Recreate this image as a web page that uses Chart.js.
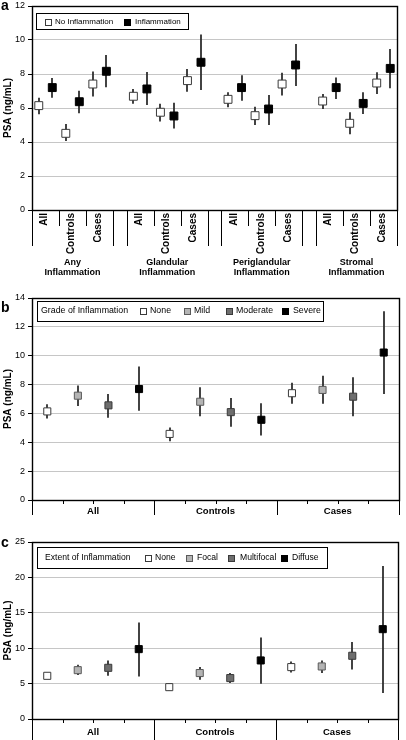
<!DOCTYPE html>
<html>
<head>
<meta charset="utf-8">
<script src="https://cdn.jsdelivr.net/npm/chart.js@4.4.1/dist/chart.umd.min.js"></script>
<style>
  html, body { margin: 0; padding: 0; background: #fff; }
  #wrap { position: relative; width: 406px; height: 740px; overflow: hidden; background: #fff; }
  canvas { position: absolute; left: 0; }
</style>
</head>
<body>
<div id="wrap">
  <canvas id="chartA" width="406" height="300" style="top:-10px"></canvas>
  <canvas id="chartB" width="406" height="240" style="top:280px"></canvas>
  <canvas id="chartC" width="406" height="220" style="top:520px"></canvas>
</div>
<script>
const FONT = '"Liberation Sans", Arial, Helvetica, sans-serif';

// ---- panel a: inflammation by compartment ----
const regionsA = ['Any Inflammation', 'Glandular Inflammation', 'Periglandular Inflammation', 'Stromal Inflammation'];
const subsetsA = ['All', 'Controls', 'Cases'];
// values run All, Controls, Cases for each region in turn
const noInflMean = [6.14, 4.51, 7.41, 6.69, 5.75, 7.61, 6.51, 5.55, 7.41, 6.41, 5.10, 7.47];
const noInflLow  = [5.63, 4.06, 6.67, 6.25, 5.20, 6.96, 6.04, 5.00, 6.73, 5.94, 4.45, 6.82];
const noInflHigh = [6.60, 5.06, 8.14, 7.12, 6.25, 8.29, 6.92, 6.08, 8.08, 6.82, 5.75, 8.10];
const inflMean   = [7.20, 6.37, 8.16, 7.12, 5.53, 8.69, 7.20, 5.94, 8.53, 7.20, 6.27, 8.33];
const inflLow    = [6.60, 5.69, 7.22, 6.18, 4.80, 7.06, 6.43, 5.00, 7.29, 6.53, 5.65, 7.16];
const inflHigh   = [7.76, 7.02, 9.12, 8.12, 6.31, 10.33, 7.92, 6.76, 9.76, 7.80, 6.92, 9.47];
const ticksA = [0, 2, 4, 6, 8, 10, 12];

// ---- panel b: grade of inflammation ----
const groupsBC = ['All', 'Controls', 'Cases'];
const gradeLabels = ['None', 'Mild', 'Moderate', 'Severe'];
const gradeNoneMean = [6.14, 4.58, 7.40];
const gradeNoneLow  = [5.65, 4.07, 6.67];
const gradeNoneHigh = [6.63, 5.03, 8.13];
const gradeMildMean = [7.23, 6.81, 7.63];
const gradeMildLow  = [6.51, 5.81, 6.67];
const gradeMildHigh = [7.93, 7.81, 8.62];
const gradeModMean  = [6.56, 6.09, 7.16];
const gradeModLow   = [5.70, 5.07, 5.81];
const gradeModHigh  = [7.35, 7.07, 8.51];
const gradeSevMean  = [7.69, 5.56, 10.22];
const gradeSevLow   = [6.18, 4.47, 7.35];
const gradeSevHigh  = [9.25, 6.70, 13.08];
const ticksB = [0, 2, 4, 6, 8, 10, 12, 14];

// ---- panel c: extent of inflammation ----
const extentLabels = ['None', 'Focal', 'Multifocal', 'Diffuse'];
const extNoneMean  = [6.10, 4.50, 7.33];
const extNoneLow   = [5.64, 4.03, 6.57];
const extNoneHigh  = [6.50, 4.98, 8.12];
const extFocalMean = [6.90, 6.49, 7.42];
const extFocalLow  = [6.20, 5.54, 6.49];
const extFocalHigh = [7.66, 7.33, 8.27];
const extMultiMean = [7.23, 5.78, 8.93];
const extMultiLow  = [6.10, 5.08, 6.98];
const extMultiHigh = [8.26, 6.49, 10.86];
const extDiffMean  = [9.87, 8.27, 12.69];
const extDiffLow   = [6.00, 4.98, 3.67];
const extDiffHigh  = [13.62, 11.50, 21.62];
const ticksC = [0, 5, 10, 15, 20, 25];

// marker fills: none / mild / moderate / severe
const fills = ['#ffffff', '#b4b4b4', '#6e6e6e', '#000000'];
const edges = ['#3a3a3a', '#5a5a5a', '#3a3a3a', '#000000'];

// x slots: panel a has 7 slots per region (2 per subset + 1 blank), b/c 4 per group
const pointsA = (vals, k) => vals.map((v, i) => ({ x: Math.floor(i / 3) * 7 + (i % 3) * 2 + k + 0.5, y: v }));
const pointsBC = (vals, k) => vals.map((v, i) => ({ x: i * 4 + k + 0.5, y: v }));

function series(label, data, low, high, idx, r) {
  return {
    label, data, low, high,
    pointStyle: 'rect', pointRadius: r, pointBorderWidth: 1,
    pointBackgroundColor: fills[idx], pointBorderColor: edges[idx],
    showLine: false
  };
}

function options(ticks, xMax, pad) {
  return {
    responsive: false,
    animation: false,
    layout: { padding: pad },
    plugins: { legend: { display: false }, tooltip: { enabled: false } },
    scales: {
      x: { type: 'linear', min: 0, max: xMax, display: false },
      y: {
        min: ticks[0], max: ticks[ticks.length - 1],
        afterBuildTicks: (s) => { s.ticks = ticks.map(v => ({ value: v })); },
        afterFit: (s) => { s.width = 32; },
        ticks: { color: '#000', font: { family: FONT, size: 9 }, padding: 3 },
        grid: { color: '#c6c6c6', lineWidth: 1, tickColor: '#000', tickLength: 4 },
        border: { color: '#000', width: 1 },
        title: {
          display: true, text: 'PSA (ng/mL)', color: '#000',
          font: { family: FONT, size: 10, weight: 'bold' }, padding: { top: 2, bottom: 0 }
        }
      }
    }
  };
}

function drawLegend(chart, lg) {
  const ctx = chart.ctx;
  ctx.save();
  ctx.fillStyle = '#fff';
  ctx.fillRect(lg.box[0], lg.box[1], lg.box[2] - lg.box[0], lg.box[3] - lg.box[1]);
  ctx.strokeStyle = '#000';
  ctx.lineWidth = 1;
  ctx.strokeRect(lg.box[0] + 0.5, lg.box[1] + 0.5, lg.box[2] - lg.box[0], lg.box[3] - lg.box[1]);
  ctx.font = lg.size + 'px ' + FONT;
  ctx.textBaseline = 'middle';
  ctx.textAlign = 'left';
  ctx.fillStyle = '#000';
  if (lg.title) ctx.fillText(lg.title, lg.titleX, lg.cy);
  chart.data.datasets.forEach((ds, i) => {
    const sx = Math.round(lg.sq[i]) - 3, sy = Math.round(lg.cy) - 3;
    ctx.fillStyle = ds.pointBackgroundColor;
    ctx.fillRect(sx, sy, 7, 7);
    ctx.strokeStyle = ds.pointBorderColor;
    ctx.strokeRect(sx + 0.5, sy + 0.5, 6, 6);
    ctx.fillStyle = '#000';
    ctx.fillText(ds.label, lg.tx[i], lg.cy);
  });
  ctx.restore();
}

function panelPlugin(cfg) {
  return {
    id: 'panel_' + cfg.letter,
    beforeDatasetsDraw(chart) {
      const ctx = chart.ctx, ys = chart.scales.y;
      ctx.save();
      ctx.strokeStyle = '#2e2e2e';
      ctx.lineWidth = 1.8;
      chart.data.datasets.forEach((ds, di) => {
        chart.getDatasetMeta(di).data.forEach((pt, i) => {
          const x = Math.round(pt.x);
          ctx.beginPath();
          ctx.moveTo(x, ys.getPixelForValue(ds.low[i]));
          ctx.lineTo(x, ys.getPixelForValue(ds.high[i]));
          ctx.stroke();
        });
      });
      ctx.restore();
    },
    afterDraw(chart) {
      const ctx = chart.ctx, a = chart.chartArea;
      ctx.save();
      ctx.strokeStyle = '#000';
      ctx.lineWidth = 1.4;
      ctx.strokeRect(Math.round(a.left) + 0.5, Math.round(a.top) + 0.5, Math.round(a.right - a.left), Math.round(a.bottom - a.top));
      ctx.restore();
      cfg.drawAxis(chart);
      drawLegend(chart, cfg.legend);
      ctx.save();
      ctx.fillStyle = '#000';
      ctx.font = 'bold 14px ' + FONT;
      ctx.textAlign = 'left';
      ctx.textBaseline = 'alphabetic';
      ctx.fillText(cfg.letter, 1, cfg.letterY);
      ctx.restore();
    }
  };
}

function vline(ctx, x, y0, y1) {
  ctx.beginPath();
  ctx.moveTo(x, y0);
  ctx.lineTo(x, y1);
  ctx.stroke();
}

function axisA(chart) {
  const ctx = chart.ctx, xs = chart.scales.x, b = chart.chartArea.bottom;
  const px = v => Math.round(xs.getPixelForValue(v)) + 0.5;
  ctx.save();
  ctx.strokeStyle = '#000';
  ctx.lineWidth = 1;
  ctx.fillStyle = '#000';
  regionsA.forEach((name, g) => {
    const base = g * 7;
    vline(ctx, px(base), b, b + 36);
    vline(ctx, px(base + 6), b, b + 36);
    vline(ctx, px(base + 2), b, b + 16);
    vline(ctx, px(base + 4), b, b + 16);
    ctx.font = 'bold 10px ' + FONT;
    ctx.textAlign = 'right';
    ctx.textBaseline = 'middle';
    subsetsA.forEach((s, i) => {
      ctx.save();
      ctx.translate(xs.getPixelForValue(base + i * 2 + 1) - 1, b + 3);
      ctx.rotate(-Math.PI / 2);
      ctx.fillText(s, 0, 0);
      ctx.restore();
    });
    ctx.font = 'bold 9px ' + FONT;
    ctx.textAlign = 'center';
    const words = name.split(' ');
    const cx = xs.getPixelForValue(base + 3);
    ctx.fillText(words[0], cx, b + 53);
    ctx.fillText(words[1], cx, b + 62.5);
  });
  ctx.restore();
}

function axisBC(longTick, labelDy) {
  return function (chart) {
    const ctx = chart.ctx, xs = chart.scales.x, b = chart.chartArea.bottom;
    ctx.save();
    ctx.strokeStyle = '#000';
    ctx.lineWidth = 1;
    for (let v = 0; v <= groupsBC.length * 4; v++) {
      const x = Math.round(xs.getPixelForValue(v)) + 0.5;
      vline(ctx, x, b, b + (v % 4 === 0 ? longTick : 4));
    }
    ctx.fillStyle = '#000';
    ctx.font = 'bold 9.5px ' + FONT;
    ctx.textAlign = 'center';
    ctx.textBaseline = 'middle';
    groupsBC.forEach((g, i) => ctx.fillText(g, xs.getPixelForValue(i * 4 + 2), b + labelDy));
    ctx.restore();
  };
}

// panel a (canvas top at -10)
new Chart(document.getElementById('chartA'), {
  type: 'scatter',
  data: {
    datasets: [
      series('No Inflammation', pointsA(noInflMean, 0), noInflLow, noInflHigh, 0, 5.6),
      series('Inflammation', pointsA(inflMean, 1), inflLow, inflHigh, 3, 5.6)
    ]
  },
  options: options(ticksA, 27, { top: 16, bottom: 80, left: 0, right: 9 }),
  plugins: [panelPlugin({
    letter: 'a', letterY: 20, drawAxis: axisA,
    legend: { box: [36, 23, 188, 39], cy: 31.5, size: 8, sq: [48, 127], tx: [55, 135] }
  })]
});

// panel b (canvas top at 280)
new Chart(document.getElementById('chartB'), {
  type: 'scatter',
  data: {
    datasets: [
      series(gradeLabels[0], pointsBC(gradeNoneMean, 0), gradeNoneLow, gradeNoneHigh, 0, 5),
      series(gradeLabels[1], pointsBC(gradeMildMean, 1), gradeMildLow, gradeMildHigh, 1, 5),
      series(gradeLabels[2], pointsBC(gradeModMean, 2), gradeModLow, gradeModHigh, 2, 5),
      series(gradeLabels[3], pointsBC(gradeSevMean, 3), gradeSevLow, gradeSevHigh, 3, 5)
    ]
  },
  options: options(ticksB, 12, { top: 18, bottom: 20, left: 0, right: 7 }),
  plugins: [panelPlugin({
    letter: 'b', letterY: 32, drawAxis: axisBC(15, 11.5),
    legend: {
      box: [37, 21, 323, 41], cy: 31, size: 8.8, title: 'Grade of Inflammation', titleX: 41,
      sq: [143, 187, 229, 285], tx: [150, 194, 236, 293]
    }
  })]
});

// panel c (canvas top at 520)
new Chart(document.getElementById('chartC'), {
  type: 'scatter',
  data: {
    datasets: [
      series(extentLabels[0], pointsBC(extNoneMean, 0), extNoneLow, extNoneHigh, 0, 5),
      series(extentLabels[1], pointsBC(extFocalMean, 1), extFocalLow, extFocalHigh, 1, 5),
      series(extentLabels[2], pointsBC(extMultiMean, 2), extMultiLow, extMultiHigh, 2, 5),
      series(extentLabels[3], pointsBC(extDiffMean, 3), extDiffLow, extDiffHigh, 3, 5)
    ]
  },
  options: options(ticksC, 12, { top: 22, bottom: 21, left: 0, right: 8 }),
  plugins: [panelPlugin({
    letter: 'c', letterY: 27, drawAxis: axisBC(25, 13.5),
    legend: {
      box: [37, 27, 327, 48], cy: 37.5, size: 8.6, title: 'Extent of Inflammation', titleX: 45,
      sq: [148, 189, 231, 284], tx: [155, 197, 240, 292]
    }
  })]
});
</script>
</body>
</html>
